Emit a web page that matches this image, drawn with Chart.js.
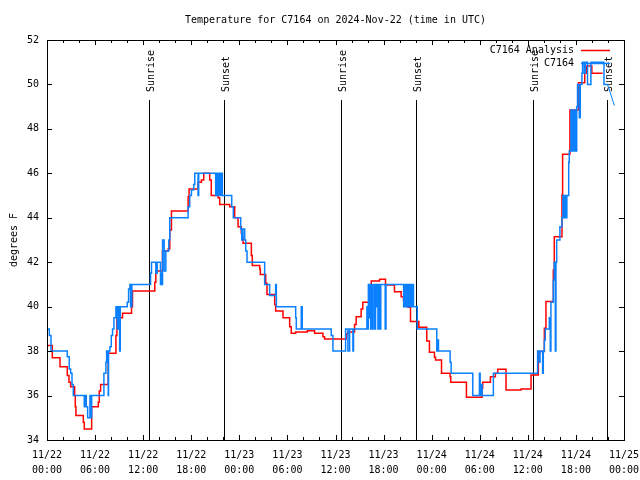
<!DOCTYPE html>
<html>
<head>
<meta charset="utf-8">
<script src="https://cdn.jsdelivr.net/npm/chart.js@4.4.1/dist/chart.umd.min.js"></script>
<style>
  body { margin: 0; background: #fff; }
</style>
</head>
<body>
<canvas id="chart" width="640" height="480"></canvas>
<script>
// hours since 11/22 00:00 UTC
var analysisHours = [0, 0.66, 1.62, 2.53, 2.74, 2.95, 3.45, 3.53, 3.61, 4.53, 4.65, 5.57, 6.40, 6.52, 6.69, 7.64, 8.60, 8.72, 9.43, 10.55,
  10.67, 13.45, 13.58, 14.41, 15.12, 15.32, 15.53, 17.61, 17.73, 18.85, 19.27, 19.56, 20.3, 20.5, 21.35, 21.55, 22.8, 23.42, 23.84, 24.25,
  24.38, 24.46, 25.50, 25.62, 26.54, 26.62, 27.29, 27.45, 28.41, 28.53, 29.45, 30.28, 30.48, 31.03, 32.48, 33.39, 34.43, 34.64, 37.33, 37.54,
  38.38, 38.58, 39.2, 39.41, 40.46, 41.5, 42.24, 43.36, 44.19, 44.48, 45.03, 45.36, 46.4, 47.39, 47.72, 48.35, 48.48, 49.23, 50.3, 50.38,
  52.34, 54.29, 54.37, 55.33, 55.95, 56.24, 57.28, 59.15, 60.4, 61.31, 62.06, 62.26, 63.18, 63.3, 64.26, 64.34, 65.25, 66.33, 67.1, 67.33,
  67.99, 69.33];
var analysisTemps = [38.25, 37.7, 37.3, 36.9, 36.6, 36.4, 36.0, 35.5, 35.1, 34.8, 34.5, 35.5, 35.7, 36.2, 36.5, 37.9, 38.7, 39.5, 39.7, 40.0,
  40.7, 41.1, 41.6, 42.5, 42.6, 43.45, 44.3, 44.95, 45.3, 45.6, 45.7, 46.0, 45.7, 45.0, 44.9, 44.6, 44.5, 44.0, 43.6, 43.3,
  43.1, 42.85, 42.3, 41.85, 41.7, 41.45, 41.05, 40.55, 40.1, 39.8, 39.5, 39.1, 38.8, 38.86, 38.92, 38.8, 38.65, 38.55, 38.77, 38.86,
  39.2, 39.55, 39.9, 40.2, 41.15, 41.23, 40.98, 40.67, 40.45, 40.3, 39.97, 39.33, 39.07, 38.45, 37.95, 37.72, 37.6, 37.0, 36.85, 36.6,
  35.92, 36.33, 36.6, 36.85, 37.0, 37.18, 36.25, 36.3, 36.93, 37.98, 39.03, 40.23, 41.65, 43.15, 45.03, 46.86, 48.85, 50.08, 50.5, 50.83,
  50.5, 50.5];

var obsHours = [0, 0.29, 0.5, 2.53, 2.78, 2.95, 3.12, 3.28, 4.65, 4.78, 4.9, 5.07, 5.36, 5.44, 5.57, 7.1, 7.35, 7.44, 7.56, 7.64,
  7.68, 7.85, 8.02, 8.18, 8.35, 8.6, 8.76, 8.93, 9.06, 9.14, 10.01, 10.18, 10.34, 10.43, 10.59, 12.92, 13.04, 13.58, 13.75, 14.16,
  14.29, 14.37, 14.42, 14.62, 14.83, 15.2, 15.32, 17.61, 17.81, 18.02, 18.31, 18.44, 18.85, 18.93, 21.05, 21.2, 21.35, 21.45, 21.6, 21.75,
  21.88, 23.05, 23.25, 24.17, 24.3, 24.45, 24.67, 24.8, 24.96, 27.16, 27.78, 28.53, 28.62, 31.03, 31.11, 31.73, 31.85, 35.47, 35.68, 37.26,
  37.55, 37.76, 38.17, 38.25, 39.92, 40.0, 40.1, 40.2, 40.3, 40.4, 40.5, 40.6, 40.7, 40.8, 40.9, 41.0, 41.1, 41.2, 41.3, 41.4,
  41.55, 41.65, 42.2, 42.3, 44.5, 44.6, 44.75, 44.85, 45.0, 45.1, 45.25, 45.35, 45.5, 45.6, 45.73, 46.2, 48.64, 48.75, 48.85, 50.3,
  50.43, 53.13, 53.96, 54.05, 54.2, 54.3, 55.7, 61.22, 61.43, 61.52, 61.85, 61.93, 62.06, 62.18, 62.68, 62.8, 62.88, 63.18, 63.3, 63.43,
  63.51, 63.6, 64.0, 64.26, 64.38, 64.5, 64.63, 64.75, 64.87, 65.1, 65.17, 65.38, 65.5, 65.6, 65.75, 65.85, 66.0, 66.1, 66.2, 66.42,
  66.54, 66.75, 66.83, 67.04, 67.16, 67.45, 67.87, 69.5, 69.95];
var obsTemps = [39.0, 38.7, 38.0, 37.75, 37.2, 37.0, 36.5, 36.0, 35.5, 36.0, 35.5, 35.0, 36.0, 35.0, 36.0, 37.0, 37.5, 38.0, 37.5, 36.0,
  38.0, 38.2, 38.7, 39.0, 39.5, 40.0, 39.0, 40.0, 38.0, 40.0, 40.2, 40.8, 41.0, 40.0, 41.0, 41.5, 42.0, 41.5, 42.0, 41.0,
  41.5, 41.0, 43.0, 41.6, 42.5, 43.0, 44.0, 44.5, 45.0, 45.25, 45.5, 46.0, 45.0, 46.0, 45.0, 46.0, 45.0, 46.0, 45.0, 46.0,
  45.0, 44.5, 44.0, 43.5, 43.0, 43.5, 43.0, 42.5, 42.0, 41.0, 40.5, 41.0, 40.0, 39.5, 39.0, 40.0, 39.0, 38.7, 38.0, 39.0,
  38.0, 39.0, 38.0, 39.0, 40.0, 39.0, 41.0, 39.5, 41.0, 39.0, 41.0, 39.0, 40.0, 41.0, 39.0, 41.0, 40.0, 41.0, 39.0, 41.0,
  39.0, 41.0, 39.0, 41.0, 40.0, 41.0, 40.0, 41.0, 40.0, 41.0, 40.0, 41.0, 40.0, 41.0, 40.0, 39.0, 38.0, 38.5, 38.0, 37.5,
  37.0, 36.0, 37.0, 36.0, 36.5, 36.0, 37.0, 38.0, 37.5, 38.0, 37.0, 38.0, 38.5, 39.0, 39.5, 38.0, 40.2, 41.2, 42.0, 38.0,
  42.0, 43.0, 43.6, 44.0, 45.0, 44.0, 45.0, 44.0, 45.0, 46.5, 47.0, 48.85, 47.0, 48.85, 47.0, 48.85, 47.0, 49.0, 50.0, 48.5,
  50.0, 50.5, 51.0, 50.5, 51.0, 50.0, 51.0, 50.0, 50.0];

// short unstepped tail at the end of the observations
var tailHours = [69.95, 70.8];
var tailTemps = [50.0, 49.05];

var sunHours = [12.75, 22.09, 36.67, 46.05, 60.6, 69.94];
var sunLabels = ['Sunrise', 'Sunset', 'Sunrise', 'Sunset', 'Sunrise', 'Sunset'];

var xTickDays = ['11/22', '11/22', '11/22', '11/22', '11/23', '11/23', '11/23', '11/23', '11/24', '11/24', '11/24', '11/24', '11/25'];
var xTickTimes = ['00:00', '06:00', '12:00', '18:00', '00:00', '06:00', '12:00', '18:00', '00:00', '06:00', '12:00', '18:00', '00:00'];

var FONT = 'DejaVu Sans Mono';

function pairs(xs, ys){
  var out = [];
  for (var i = 0; i < xs.length; i++) out.push({x: xs[i], y: ys[i]});
  return out;
}

var gnuplotLook = {
  id: 'gnuplotLook',
  beforeDatasetsDraw: function(chart){
    var ctx = chart.ctx, a = chart.chartArea, xs = chart.scales.x;
    ctx.save();
    ctx.strokeStyle = '#000';
    ctx.lineWidth = 1;
    ctx.fillStyle = '#000';
    ctx.font = '10px "' + FONT + '"';
    for (var i = 0; i < sunHours.length; i++){
      var px = Math.round(xs.getPixelForValue(sunHours[i])) + 0.5;
      ctx.beginPath();
      ctx.moveTo(px, 100);
      ctx.lineTo(px, a.bottom);
      ctx.stroke();
      ctx.save();
      ctx.translate(px, 92);
      ctx.rotate(-Math.PI / 2);
      ctx.textAlign = 'left';
      ctx.textBaseline = 'middle';
      ctx.fillText(sunLabels[i], 0, 1.5);
      ctx.restore();
    }
    ctx.restore();
  },
  afterDraw: function(chart){
    var ctx = chart.ctx, a = chart.chartArea, xs = chart.scales.x, ys = chart.scales.y;
    ctx.save();
    ctx.strokeStyle = '#000';
    ctx.lineWidth = 1;
    ctx.strokeRect(Math.round(a.left) + 0.5, Math.round(a.top) + 0.5,
                   Math.round(a.right - a.left), Math.round(a.bottom - a.top));
    ctx.beginPath();
    for (var h = 0; h <= 72; h += 2){
      var px = Math.round(xs.getPixelForValue(h)) + 0.5;
      var len = (h % 6 === 0) ? 5 : 3;
      ctx.moveTo(px, a.bottom); ctx.lineTo(px, a.bottom - len);
      ctx.moveTo(px, a.top); ctx.lineTo(px, a.top + len);
    }
    for (var t = 34; t <= 52; t += 2){
      var py = Math.round(ys.getPixelForValue(t)) + 0.5;
      ctx.moveTo(a.left, py); ctx.lineTo(a.left + 5, py);
      ctx.moveTo(a.right, py); ctx.lineTo(a.right - 5, py);
    }
    ctx.stroke();

    // title
    ctx.fillStyle = '#000';
    ctx.font = '10px "' + FONT + '"';
    ctx.textAlign = 'center';
    ctx.textBaseline = 'middle';
    ctx.fillText('Temperature for C7164 on 2024-Nov-22 (time in UTC)', (a.left + a.right) / 2, 20);

    // legend, gnuplot style: text right aligned, sample line after it
    var rows = [chart.data.datasets[0], chart.data.datasets[1]];
    ctx.textAlign = 'right';
    for (var r = 0; r < rows.length; r++){
      var y = 50 + r * 13;
      ctx.fillStyle = '#000';
      ctx.fillText(rows[r].label, 574, y);
      ctx.strokeStyle = rows[r].borderColor;
      ctx.lineWidth = 1.5;
      ctx.beginPath();
      ctx.moveTo(581, Math.round(y) + 0.5);
      ctx.lineTo(610, Math.round(y) + 0.5);
      ctx.stroke();
    }
    ctx.restore();
  }
};

var ctx = document.getElementById('chart');
var myChart = new Chart(ctx, {
  type: 'line',
  data: {
    datasets: [{
      label: 'C7164 Analysis',
      data: pairs(analysisHours, analysisTemps),
      borderColor: '#ff0000',
      borderWidth: 1.5,
      stepped: true,
      pointRadius: 0,
      order: 1
    }, {
      label: 'C7164',
      data: pairs(obsHours, obsTemps),
      borderColor: '#0a80ff',
      borderWidth: 1.5,
      stepped: true,
      pointRadius: 0,
      order: 0
    }, {
      label: 'tail',
      data: pairs(tailHours, tailTemps),
      borderColor: '#0a80ff',
      borderWidth: 1,
      pointRadius: 0,
      order: 0
    }]
  },
  options: {
    responsive: false,
    animation: false,
    layout: { padding: { top: 40, right: 16, left: 0, bottom: 0 } },
    plugins: {
      legend: { display: false },
      title: { display: false },
      tooltip: { enabled: false }
    },
    scales: {
      x: {
        type: 'linear',
        min: 0,
        max: 72,
        grid: { display: false, drawTicks: false },
        border: { display: false },
        ticks: {
          stepSize: 6,
          autoSkip: false,
          maxRotation: 0,
          padding: 8,
          color: '#000',
          font: { family: FONT, size: 10, lineHeight: 1.5 },
          callback: function(v){ return [xTickDays[v / 6], xTickTimes[v / 6]]; }
        },
        afterFit: function(s){ s.height = 40; s.paddingLeft = 0; s.paddingRight = 0; }
      },
      y: {
        min: 34,
        max: 52,
        grid: { display: false, drawTicks: false },
        border: { display: false },
        ticks: {
          stepSize: 2,
          padding: 8,
          color: '#000',
          font: { family: FONT, size: 10 }
        },
        title: {
          display: true,
          text: 'degrees F',
          color: '#000',
          font: { family: FONT, size: 10 },
          padding: { top: 8, bottom: 0 }
        },
        afterFit: function(s){ s.width = 47; s.paddingTop = 0; s.paddingBottom = 0; }
      }
    }
  },
  plugins: [gnuplotLook]
});
</script>
</body>
</html>
